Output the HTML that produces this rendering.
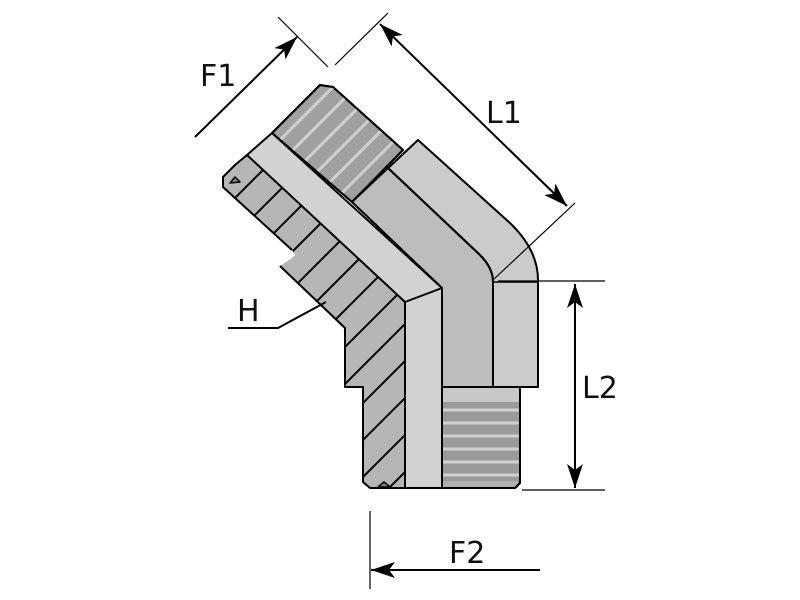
<!DOCTYPE html>
<html><head><meta charset="utf-8"><style>
html,body{margin:0;padding:0;background:#fff;width:800px;height:600px;overflow:hidden;}
svg{display:block;}
text{font-family:"DejaVu Sans","Liberation Sans",sans-serif;fill:#111;}
</style></head><body>
<svg width="800" height="600" viewBox="0 0 800 600" xmlns="http://www.w3.org/2000/svg">
<defs>
<marker id="ar" viewBox="0 0 24 16" refX="24" refY="8" markerWidth="24" markerHeight="16" markerUnits="userSpaceOnUse" orient="auto">
<path d="M0,0 L24,8 L0,16 L6,8 Z" fill="#000"/>
</marker>
<marker id="as" viewBox="0 0 24 16" refX="0" refY="8" markerWidth="24" markerHeight="16" markerUnits="userSpaceOnUse" orient="auto">
<path d="M24,0 L0,8 L24,16 L18,8 Z" fill="#000"/>
</marker>
<clipPath id="hc"><path d="M247,155 L235,165 L223,177 L223,187 L235,198 L292,250 L295,255 L292,258 L280,266 L345,328 L345,387 L363,387 L363,482 L370,488 L405,488 L405,302 Z"/></clipPath>
<clipPath id="tc"><path d="M272,133 L320,85 L333,87 L403,150 L352,202 Z"/></clipPath>
<clipPath id="bc"><path d="M442,387 L520,387 L520,483 L515,488 L442,488 Z"/></clipPath>
</defs>
<g stroke="#000" stroke-width="2" stroke-linejoin="round">
<path d="M247,155 L235,165 L223,177 L223,187 L235,198 L292,250 L295,255 L292,258 L280,266 L345,328 L345,387 L363,387 L363,482 L370,488 L405,488 L405,302 Z" fill="#b6b6b6" stroke="none"/>
<g clip-path="url(#hc)" stroke-width="2">
<line x1="200" y1="233" x2="333" y2="100"/>
<line x1="200" y1="270" x2="370" y2="100"/>
<line x1="200" y1="307" x2="407" y2="100"/>
<line x1="200" y1="344" x2="444" y2="100"/>
<line x1="200" y1="381" x2="460" y2="121"/>
<line x1="200" y1="418" x2="460" y2="158"/>
<line x1="200" y1="455" x2="460" y2="195"/>
<line x1="200" y1="492" x2="460" y2="232"/>
<line x1="229" y1="500" x2="460" y2="269"/>
<line x1="266" y1="500" x2="460" y2="306"/>
<line x1="303" y1="500" x2="460" y2="343"/>
<line x1="340" y1="500" x2="460" y2="380"/>
<line x1="377" y1="500" x2="460" y2="417"/>
</g>
<path d="M247,155 L235,165 L223,177 L223,187 L235,198 L292,250 M280,266 L345,328 L345,387 L363,387 L363,482 L370,488 L405,488" fill="none"/>
<path d="M378,487 l6,-5 l6,5 z M230,183 l5,-6 l5,5 z" fill="#888" stroke-width="1.5"/>
<path d="M272,133 L320,85 L333,87 L403,150 L352,202 Z" fill="#a0a0a0"/>
<g clip-path="url(#tc)" stroke="#d0d0d0" stroke-width="3">
<line x1="270" y1="150" x2="350" y2="70"/><line x1="282" y1="161" x2="362" y2="81"/><line x1="294" y1="172" x2="374" y2="92"/><line x1="306" y1="183" x2="386" y2="103"/><line x1="318" y1="194" x2="398" y2="114"/><line x1="330" y1="205" x2="410" y2="125"/><line x1="342" y1="216" x2="422" y2="136"/>
</g>
<path d="M272,133 L320,85 L333,87 L403,150 L352,202 Z" fill="none"/>
<path d="M352,202 L418,140 L510,223 Q538,250 538,280 L538,387 L442,387 L442,288 Z" fill="#cbcbcb"/>
<path d="M352,202 L388,168 L480,255 Q493,268 493,282 L493,387 L442,387 L442,288 Z" fill="#bdbdbd"/>
<path d="M388,168 L480,255 Q493,268 493,282 L493,387" fill="none"/>
<path d="M493,282 L538,282" fill="none" stroke-width="1.5"/>
<path d="M442,387 L520,387 L520,483 L515,488 L442,488 Z" fill="#9a9a9a"/>
<rect x="442" y="388" width="78" height="14" fill="#c8c8c8" stroke="none"/>
<g clip-path="url(#bc)" stroke="#d0d0d0" stroke-width="3">
<line x1="442" y1="410" x2="520" y2="410"/><line x1="442" y1="423" x2="520" y2="423"/><line x1="442" y1="436" x2="520" y2="436"/><line x1="442" y1="449" x2="520" y2="449"/><line x1="442" y1="462" x2="520" y2="462"/><line x1="442" y1="475" x2="520" y2="475"/>
</g>
<rect x="442" y="481" width="76" height="7" fill="#b0b0b0" stroke="none"/>
<path d="M442,387 L520,387 L520,483 L515,488 L442,488" fill="none"/>
<path d="M247,155 L272,133 L442,288 L442,488 L405,488 L405,302 Z" fill="#d2d2d2"/>
<path d="M405,302 L442,288" fill="none"/>
</g>
<g stroke="#000" fill="none">
<line x1="278" y1="17" x2="328" y2="67" stroke-width="1.2"/>
<line x1="335" y1="65" x2="388" y2="13" stroke-width="1.2"/>
<line x1="195" y1="137" x2="297" y2="37" stroke-width="2" marker-end="url(#ar)"/>
<line x1="380" y1="24" x2="567" y2="206" stroke-width="2" marker-start="url(#as)" marker-end="url(#ar)"/>
<line x1="575" y1="203" x2="493" y2="280" stroke-width="1.2"/>
<line x1="498" y1="281" x2="605" y2="281" stroke-width="1.2"/>
<line x1="522" y1="490" x2="605" y2="490" stroke-width="1.2"/>
<line x1="575" y1="284" x2="575" y2="488" stroke-width="2" marker-start="url(#as)" marker-end="url(#ar)"/>
<line x1="370" y1="511" x2="370" y2="589" stroke-width="1.2"/>
<line x1="540" y1="570" x2="371" y2="570" stroke-width="2" marker-end="url(#ar)"/>
<path d="M228,328 L278,328 L326,302" stroke-width="2"/>
</g>
<text x="200" y="86" font-size="30">F1</text>
<text x="486" y="123" font-size="30">L1</text>
<text x="582" y="398" font-size="30">L2</text>
<text x="449" y="563" font-size="30">F2</text>
<text x="237" y="321" font-size="30">H</text>
</svg>
</body></html>
